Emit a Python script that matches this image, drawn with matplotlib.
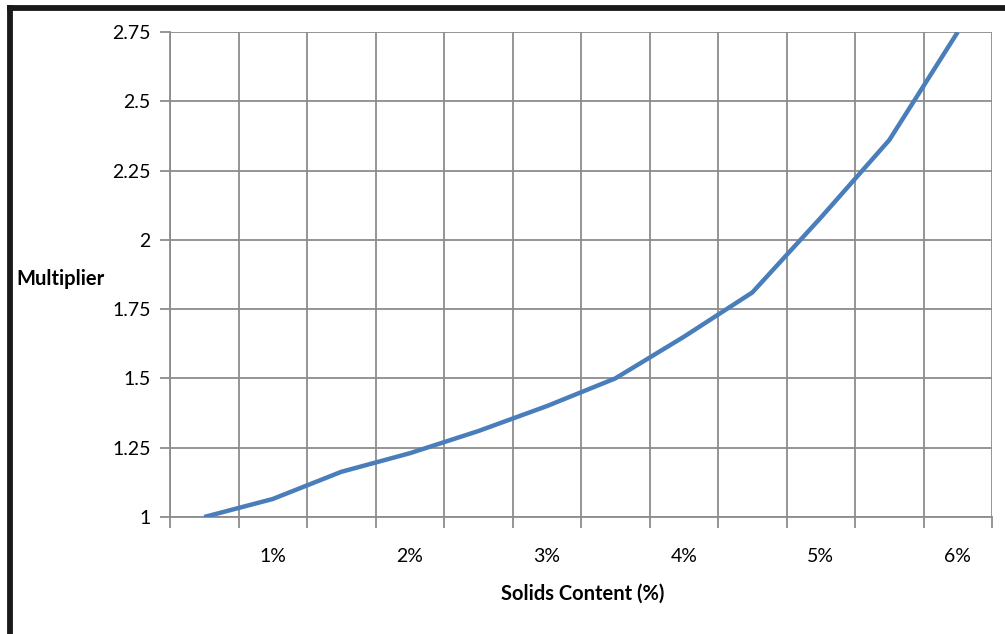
import numpy as np
import matplotlib
matplotlib.use('Agg')
from matplotlib import pyplot as plt
from matplotlib.lines import Line2D

plt.rcParams['font.family'] = ['Lato', 'DejaVu Sans']

# solids content categories (%) and multiplier values
solids = [0.5, 1.0, 1.5, 2.0, 2.5, 3.0, 3.5, 4.0, 4.5, 5.0, 5.5, 6.0]
multiplier = [1.00, 1.065, 1.163, 1.23, 1.31, 1.40, 1.50, 1.65, 1.81, 2.08, 2.36, 2.75]
y_ticks = [1, 1.25, 1.5, 1.75, 2, 2.25, 2.5, 2.75]
y_labels = ['1', '1.25', '1.5', '1.75', '2', '2.25', '2.5', '2.75']

fig = plt.figure(figsize=(10.05, 6.34), dpi=100)
ax = fig.add_axes([170 / 1005, 1 - 517 / 634, 822 / 1005, 485 / 634])

grid_c = '#8c8c8c'
pos = np.arange(len(solids))
ax.plot(pos, multiplier, color='#4a7ebb', lw=3.2, solid_capstyle='butt', zorder=3)

ax.set_xlim(-0.5, len(solids) - 0.5)
ax.set_ylim(1, 2.75)

# category boundaries carry the gridlines and tick marks
ax.set_xticks(np.arange(len(solids) + 1) - 0.5)
ax.set_xticklabels([])
ax.set_xticks(pos[1::2], minor=True)
ax.set_xticklabels(['%d%%' % s for s in solids[1::2]], minor=True)
ax.tick_params(axis='x', which='major', length=8, width=1.3, color=grid_c, direction='out')
ax.tick_params(axis='x', which='minor', length=0, pad=22, labelsize=14)

ax.set_yticks(y_ticks)
ax.set_yticklabels(y_labels)
ax.tick_params(axis='y', length=7, width=1.3, color=grid_c, direction='out', pad=7, labelsize=14)

ax.grid(True, which='major', color=grid_c, lw=1.3)
ax.set_axisbelow(True)
for side in ['top', 'right']:
    ax.spines[side].set_visible(False)
for side in ['left', 'bottom']:
    ax.spines[side].set_color(grid_c)
    ax.spines[side].set_linewidth(1.3)

fig.text(583 / 1005, 1 - 594 / 634, 'Solids Content (%)', ha='center', va='center',
         fontsize=14.5, fontweight='bold')
fig.text(16 / 1005, 1 - 279 / 634, 'Multiplier', ha='left', va='center',
         fontsize=14.5, fontweight='bold')

# black frame on the left and top edges
fig.add_artist(Line2D([9.5 / 1005, 9.5 / 1005], [0, 1 - 5 / 634], color='#1a1a1a', lw=4.2,
                      transform=fig.transFigure, solid_capstyle='butt'))
fig.add_artist(Line2D([7 / 1005, 1], [1 - 8 / 634, 1 - 8 / 634], color='#1a1a1a', lw=4.2,
                      transform=fig.transFigure, solid_capstyle='butt'))

fig.savefig('out.png', dpi=100)
